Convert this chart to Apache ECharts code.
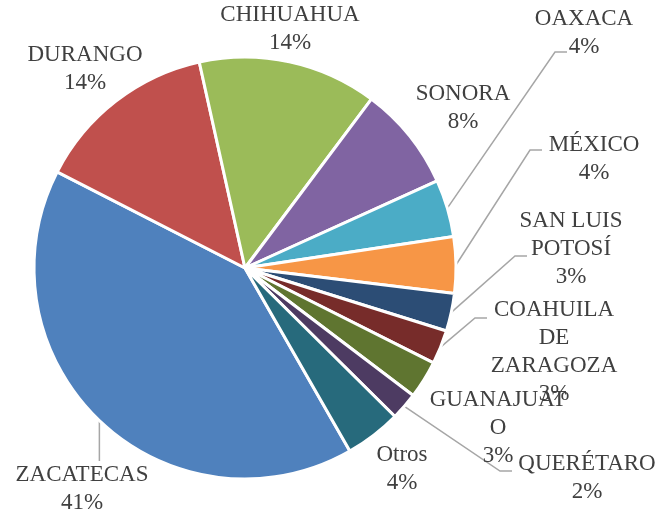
<!DOCTYPE html>
<html>
<head>
<meta charset="utf-8">
<script src="https://cdn.jsdelivr.net/npm/echarts@6/dist/echarts.min.js"></script>
<style>
  html, body { margin: 0; padding: 0; background: #fff; }
  #main { width: 670px; height: 513px; }
</style>
</head>
<body>
<div id="main"></div>
<script>
// estados, en el orden de las rebanadas (sentido horario)
var estados = ['ZACATECAS', 'DURANGO', 'CHIHUAHUA', 'SONORA', 'OAXACA', 'MÉXICO',
    'SAN LUIS POTOSÍ', 'COAHUILA DE ZARAGOZA', 'GUANAJUATO', 'QUERÉTARO', 'Otros'];
var etiquetas = ['ZACATECAS', 'DURANGO', 'CHIHUAHUA', 'SONORA', 'OAXACA', 'MÉXICO',
    'SAN LUIS\nPOTOSÍ', 'COAHUILA\nDE\nZARAGOZA', 'GUANAJUAT\nO', 'QUERÉTARO', 'Otros'];
var porcentajes = [40.8, 14.0, 13.7, 8.0, 4.4, 4.3, 2.9, 2.6, 2.9, 2.1, 4.3];
var colores = ['#4F81BD', '#C0504D', '#9BBB59', '#8064A2', '#4BACC6', '#F79646',
    '#2C4D75', '#772C2A', '#5F7530', '#4D3B62', '#276A7C'];

// donde va cada etiqueta (centro del bloque) y, si tiene, el final de su linea guia
var posEtiquetas = [
    { x: 82, y: 489, linea: 'vertical', fin: 461 },
    { x: 85, y: 69 },
    { x: 290, y: 29 },
    { x: 463, y: 108 },
    { x: 584, y: 33, fin: [567, 52] },
    { x: 594, y: 159, fin: [542, 150] },
    { x: 571, y: 249, fin: [527, 256] },
    { x: 554, y: 352, fin: [487, 318] },
    { x: 498, y: 428 },
    { x: 587, y: 478, fin: [512, 471] },
    { x: 402, y: 469 }
];

var myChart = echarts.init(document.getElementById('main'));

var datos = estados.map(function (nombre, i) {
    return {
        name: nombre,
        value: porcentajes[i],
        itemStyle: { color: colores[i] },
        labelLine: { show: !!posEtiquetas[i].fin }
    };
});

var option = {
    animation: false,
    backgroundColor: '#fff',
    series: [
        {
            type: 'pie',
            center: [245, 268],
            radius: 211,
            startAngle: 299.8,
            clockwise: true,
            percentPrecision: 0,
            avoidLabelOverlap: false,
            itemStyle: {
                borderColor: '#fff',
                borderWidth: 3
            },
            label: {
                show: true,
                position: 'outside',
                fontFamily: '"Liberation Serif", "Times New Roman", serif',
                fontSize: 23,
                lineHeight: 28,
                color: '#404040',
                align: 'center',
                formatter: function (p) {
                    return etiquetas[p.dataIndex] + '\n' + p.percent + '%';
                }
            },
            labelLine: {
                length: 10,
                length2: 10,
                lineStyle: { color: '#A6A6A6', width: 1.5 }
            },
            labelLayout: function (p) {
                var pos = posEtiquetas[p.dataIndex];
                var res = { x: pos.x, y: pos.y, align: 'center', verticalAlign: 'middle' };
                if (pos.fin && p.labelLinePoints) {
                    var ini = p.labelLinePoints[0];
                    if (pos.linea === 'vertical') {
                        res.labelLinePoints = [ini, [ini[0], pos.fin], [ini[0], pos.fin]];
                    } else {
                        res.labelLinePoints = [ini, [pos.fin[0] - 12, pos.fin[1]], pos.fin];
                    }
                }
                return res;
            },
            emphasis: { disabled: true },
            data: datos
        }
    ]
};
myChart.setOption(option);
</script>
</body>
</html>
